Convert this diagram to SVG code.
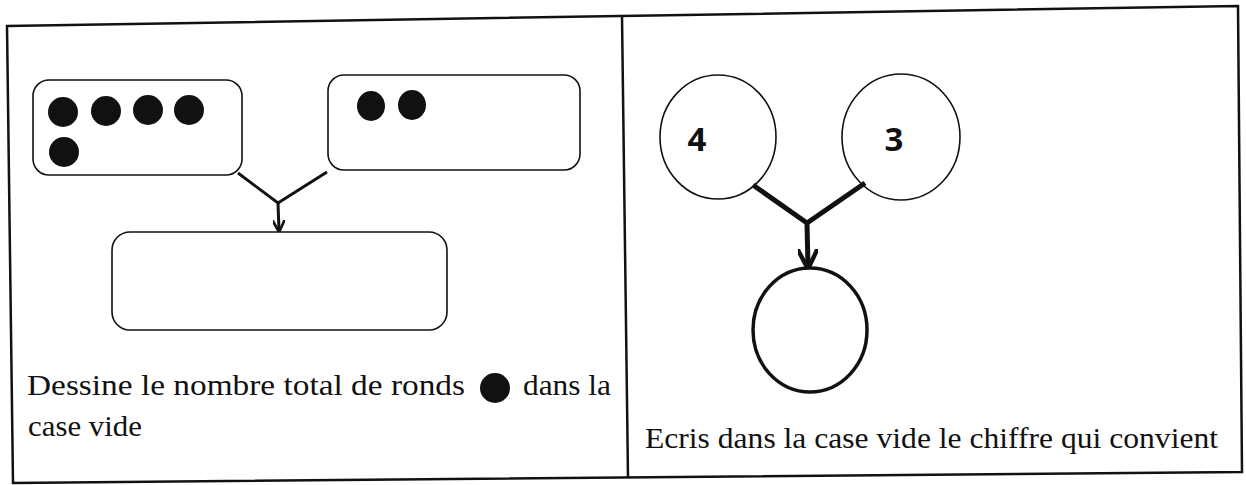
<svg xmlns="http://www.w3.org/2000/svg" width="1246" height="485" viewBox="0 0 1246 485">
  <defs>
    <style>
      .frame { fill: none; stroke: #111; stroke-width: 2.5; }
      .box { fill: #fff; stroke: #111; stroke-width: 1.6; }
      .ring { fill: #fff; stroke: #111; stroke-width: 1.6; }
      .ring-thick { fill: #fff; stroke: #111; stroke-width: 3.5; }
      .dot { fill: #111; }
      .link { fill: none; stroke: #111; stroke-linecap: butt; }
      .txt { font-family: "Liberation Serif", "Times New Roman", serif; font-size: 29px; fill: #111; }
      .num { font-family: "Open Sans", "Liberation Sans", sans-serif; font-weight: bold; font-size: 33px; fill: #111; }
    </style>
    <marker id="head" viewBox="0 0 10 10" refX="9" refY="5" markerWidth="4" markerHeight="4" orient="auto" markerUnits="strokeWidth">
      <path d="M0,0 L10,5 L0,10" fill="none" stroke="#111" stroke-width="2.2"/>
    </marker>
  </defs>
  <rect width="1246" height="485" fill="#fff"/>

  <!-- outer frame and divider -->
  <g id="frame">
    <polygon class="frame" points="7,26 1238,6 1242,472 13,483"/>
    <line class="frame" x1="622" y1="16" x2="628" y2="478"/>
  </g>

  <!-- left panel: dot sets -->
  <g id="set-five">
    <rect class="box" x="33" y="80" width="209" height="95" rx="16"/>
    <ellipse class="dot" cx="63" cy="112" rx="15" ry="15"/>
    <ellipse class="dot" cx="106" cy="111" rx="15" ry="15"/>
    <ellipse class="dot" cx="148" cy="110" rx="15" ry="15"/>
    <ellipse class="dot" cx="189" cy="110" rx="15" ry="15"/>
    <ellipse class="dot" cx="64" cy="152" rx="15" ry="15"/>
  </g>
  <g id="set-two">
    <rect class="box" x="328" y="75" width="252" height="95" rx="16"/>
    <ellipse class="dot" cx="371" cy="106" rx="14" ry="15"/>
    <ellipse class="dot" cx="412" cy="105" rx="14" ry="15"/>
  </g>
  <g id="set-total">
    <rect class="box" x="112" y="232" width="335" height="98" rx="18"/>
  </g>

  <!-- right panel: number circles -->
  <g id="num-four">
    <ellipse class="ring" cx="718" cy="137" rx="58" ry="62"/>
    <text class="num" x="697" y="151" text-anchor="middle">4</text>
  </g>
  <g id="num-three">
    <ellipse class="ring" cx="901" cy="137" rx="59" ry="63"/>
    <text class="num" x="894" y="151" text-anchor="middle">3</text>
  </g>
  <g id="num-sum">
    <ellipse class="ring-thick" cx="810" cy="330" rx="57" ry="62"/>
  </g>

  <!-- connectors -->
  <g id="connectors">
    <path class="link" stroke-width="3" d="M238,173 L278,203 L327,172"/>
    <line class="link" stroke-width="3" x1="278" y1="203" x2="279" y2="231" marker-end="url(#head)"/>
    <path class="link" stroke-width="5" d="M753,185 L807,223 L865,183"/>
    <line class="link" stroke-width="5" x1="807" y1="223" x2="808" y2="267" marker-end="url(#head)"/>
  </g>

  <!-- instructions -->
  <g id="caption-left">
    <text class="txt" x="27" y="395" textLength="438" lengthAdjust="spacingAndGlyphs">Dessine le nombre  total de ronds</text>
    <ellipse class="dot" cx="495" cy="388" rx="15" ry="15"/>
    <text class="txt" x="523" y="395" textLength="88" lengthAdjust="spacingAndGlyphs">dans la</text>
    <text class="txt" x="28" y="436" textLength="114" lengthAdjust="spacingAndGlyphs">case vide</text>
  </g>
  <g id="caption-right">
    <text class="txt" x="645" y="448" textLength="573" lengthAdjust="spacingAndGlyphs">Ecris dans la case vide le chiffre  qui convient</text>
  </g>
</svg>
